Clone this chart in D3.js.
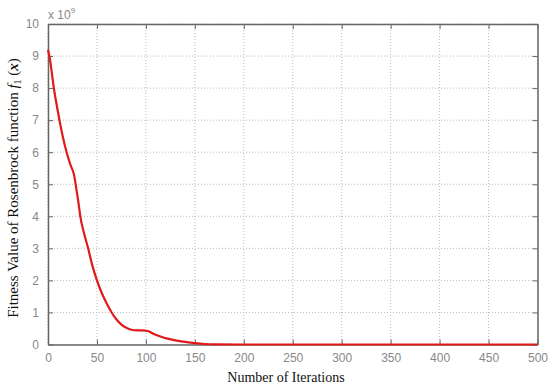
<!DOCTYPE html>
<html><head><meta charset="utf-8">
<script src="https://cdn.jsdelivr.net/npm/d3@7"></script>
<style>body{margin:0;background:#fff;} svg{display:block;}</style>
</head><body>
<svg id="c" width="550" height="389"></svg>
<script>
const iterations = [0, 2, 4, 6, 9, 12, 15, 19, 23, 26.5, 29, 31, 33, 37, 41, 45, 50, 55, 60, 65, 70, 75, 80, 85, 91, 96, 102, 108, 115, 121, 130, 140, 150, 160, 170, 200, 300, 400, 500];
const fitness = [9.2, 8.9, 8.45, 8.0, 7.45, 6.95, 6.5, 6.0, 5.6, 5.3, 4.85, 4.45, 4.0, 3.45, 3.0, 2.5, 2.0, 1.6, 1.28, 1.0, 0.78, 0.62, 0.52, 0.46, 0.44, 0.44, 0.42, 0.33, 0.25, 0.19, 0.13, 0.08, 0.04, 0.015, 0.005, 0, 0, 0, 0];
const xTicks = [0, 50, 100, 150, 200, 250, 300, 350, 400, 450, 500];
const yTicks = [0, 1, 2, 3, 4, 5, 6, 7, 8, 9, 10];

const svg = d3.select("#c");
const L = 48, R = 537.5, T = 24, B = 344.5;
const x = d3.scaleLinear().domain([0, 500]).range([L, R]);
const y = d3.scaleLinear().domain([0, 10]).range([B, T]);
const gray = "#666";

// grid
const grid = svg.append("g");
xTicks.forEach(t => grid.append("line").attr("x1", x(t)).attr("x2", x(t)).attr("y1", T).attr("y2", B)
  .attr("stroke", "#bbb").attr("stroke-width", 1).attr("stroke-dasharray", "1,2"));
yTicks.forEach(t => grid.append("line").attr("x1", L).attr("x2", R).attr("y1", y(t)).attr("y2", y(t))
  .attr("stroke", "#bbb").attr("stroke-width", 1).attr("stroke-dasharray", "1,2"));

// axes
const fmt = d => d;
const ax = svg.append("g").attr("transform", `translate(0,${B})`)
  .call(d3.axisBottom(x).tickValues(xTicks).tickSizeInner(-5).tickSizeOuter(0).tickPadding(9).tickFormat(fmt));
const ay = svg.append("g").attr("transform", `translate(${L},0)`)
  .call(d3.axisLeft(y).tickValues(yTicks).tickSizeInner(-5).tickSizeOuter(0).tickPadding(9).tickFormat(fmt));
const axT = svg.append("g").attr("transform", `translate(0,${T})`)
  .call(d3.axisTop(x).tickValues(xTicks).tickSizeInner(-5).tickSizeOuter(0).tickFormat(""));
const ayR = svg.append("g").attr("transform", `translate(${R},0)`)
  .call(d3.axisRight(y).tickValues(yTicks).tickSizeInner(-5).tickSizeOuter(0).tickFormat(""));
[ax, ay, axT, ayR].forEach(g => {
  g.select(".domain").attr("stroke", gray).attr("stroke-width", 1.5);
  g.selectAll(".tick line").attr("stroke", gray);
  g.selectAll(".tick text").attr("fill", "#888").style("font-family", "Arial, 'Liberation Sans', sans-serif").style("font-size", "12px");
});

// curve
const line = d3.line().x((d, i) => x(iterations[i])).y(d => y(d)).curve(d3.curveMonotoneX);
svg.append("path").datum(fitness).attr("d", line).attr("fill", "none")
  .attr("stroke", "#e0191b").attr("stroke-width", 2.2);

// exponent
const ex = svg.append("text").attr("x", L + 0).attr("y", 19).attr("fill", "#888")
  .style("font-family", "Arial, 'Liberation Sans', sans-serif").style("font-size", "12px");
ex.append("tspan").text("x 10");
ex.append("tspan").attr("dy", -6).style("font-size", "8px").text("9");

// labels
svg.append("text").attr("x", 286).attr("y", 382).attr("text-anchor", "middle")
  .style("font-family", "'Liberation Serif', 'Times New Roman', serif").style("font-size", "14px").attr("fill", "#111")
  .text("Number of Iterations");
const yl = svg.append("text").attr("transform", "translate(18,188) rotate(-90)").attr("text-anchor", "middle")
  .style("font-family", "'Liberation Serif', 'Times New Roman', serif").style("font-size", "15px").attr("fill", "#111");
yl.append("tspan").text("Fitness Value of Rosenbrock function ");
yl.append("tspan").style("font-style", "italic").text("f");
yl.append("tspan").attr("dy", 3).style("font-size", "10px").text("1");
yl.append("tspan").attr("dy", -3).text(" (");
yl.append("tspan").style("font-style", "italic").style("font-weight", "bold").text("x");
yl.append("tspan").text(")");
</script>
</body></html>
